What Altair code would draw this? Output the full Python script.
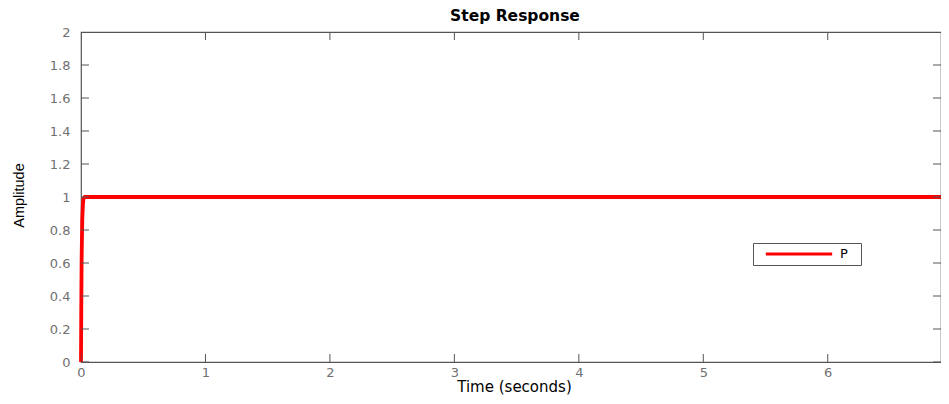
import altair as alt
import pandas as pd

# data
time_s = [0.0, 0.002, 0.005, 0.01, 0.015, 0.02, 0.03, 0.05, 7.0]
amplitude = [0.0, 0.30, 0.62, 0.86, 0.95, 0.99, 1.0, 1.0, 1.0]
series_name = "P"
x_ticks = [0, 1, 2, 3, 4, 5, 6, 7]
y_ticks = [0, 0.2, 0.4, 0.6, 0.8, 1.0, 1.2, 1.4, 1.6, 1.8, 2.0]

W, H = 860, 330
FONT = "Liberation Sans"
WIDE = "DejaVu Sans"
GRAY = "#707070"

df = pd.DataFrame({"t": time_s, "y": amplitude, "s": [series_name] * len(time_s)})
xt = pd.DataFrame({"t": x_ticks})
yt = pd.DataFrame({"y": y_ticks})

xscale = alt.Scale(domain=[0, 6.91], nice=False, zero=False)
yscale = alt.Scale(domain=[0, 2], nice=False)

xaxis = alt.Axis(title="Time (seconds)", values=x_ticks, format="~g", ticks=False,
                 labelPadding=4, titlePadding=0, labelFontSize=13, titleFontSize=15,
                 labelColor=GRAY, titleColor="#000000", labelFont=WIDE, titleFont=WIDE,
                 titleFontWeight="normal", domain=False, grid=False,
                 labelOverlap=False, labelFlush=False, titleX=433)
yaxis = alt.Axis(title="Amplitude", values=y_ticks, format="~g", ticks=False,
                 labelPadding=11, labelFontSize=13, titleFontSize=14.5, labelColor=GRAY,
                 titleColor="#000000", labelFont=WIDE, titleFont=FONT,
                 titleFontWeight="normal",
                 titleX=-55, titleY=163, domain=False, grid=False,
                 labelOverlap=False, labelFlush=False)

line = alt.Chart(df).mark_line(strokeWidth=3.8).encode(
    x=alt.X("t:Q", scale=xscale, axis=xaxis),
    y=alt.Y("y:Q", scale=yscale, axis=yaxis),
    color=alt.Color("s:N", scale=alt.Scale(range=["#ff0000"]),
                    legend=alt.Legend(title="\u00a0", titleOrient="right", titlePadding=10,
                                      titleFontSize=13, titleFont=WIDE,
                                      orient="none", legendX=672, legendY=211,
                                      symbolType="stroke", symbolStrokeWidth=3,
                                      symbolSize=4400, clipHeight=16,
                                      labelFontSize=13, labelFont=WIDE, labelColor="#000000",
                                      strokeColor="#555555", fillColor="#ffffff",
                                      padding=3, symbolOffset=8, labelOffset=6, cornerRadius=0)),
)

tick_style = dict(color="#555555", strokeWidth=1, clip=True)
left_ticks = alt.Chart(yt).mark_rule(**tick_style).encode(
    y=alt.Y("y:Q", scale=yscale, axis=yaxis), x=alt.value(0), x2=alt.value(8))
right_ticks = alt.Chart(yt).mark_rule(**tick_style).encode(
    y=alt.Y("y:Q", scale=yscale, axis=yaxis), x=alt.value(W - 8), x2=alt.value(W))
bottom_ticks = alt.Chart(xt).mark_rule(**tick_style).encode(
    x=alt.X("t:Q", scale=xscale, axis=xaxis), y=alt.value(H), y2=alt.value(H - 8))
top_ticks = alt.Chart(xt).mark_rule(**tick_style).encode(
    x=alt.X("t:Q", scale=xscale, axis=xaxis), y=alt.value(0), y2=alt.value(8))

chart = alt.layer(line, left_ticks, right_ticks, bottom_ticks, top_ticks).properties(
    width=W, height=H,
    background="#ffffff",
    title=alt.Title("Step Response", fontSize=15.5, font=WIDE, fontWeight="bold",
                    color="#000000", offset=2, anchor="middle", dx=4),
    autosize=alt.AutoSizeParams(type="none"),
    padding={"left": 73, "top": 24, "right": 0, "bottom": 34},
).configure_view(stroke="#555555", strokeWidth=1.2)

chart.save("out.html", embed_options={"renderer": "svg", "actions": False})
